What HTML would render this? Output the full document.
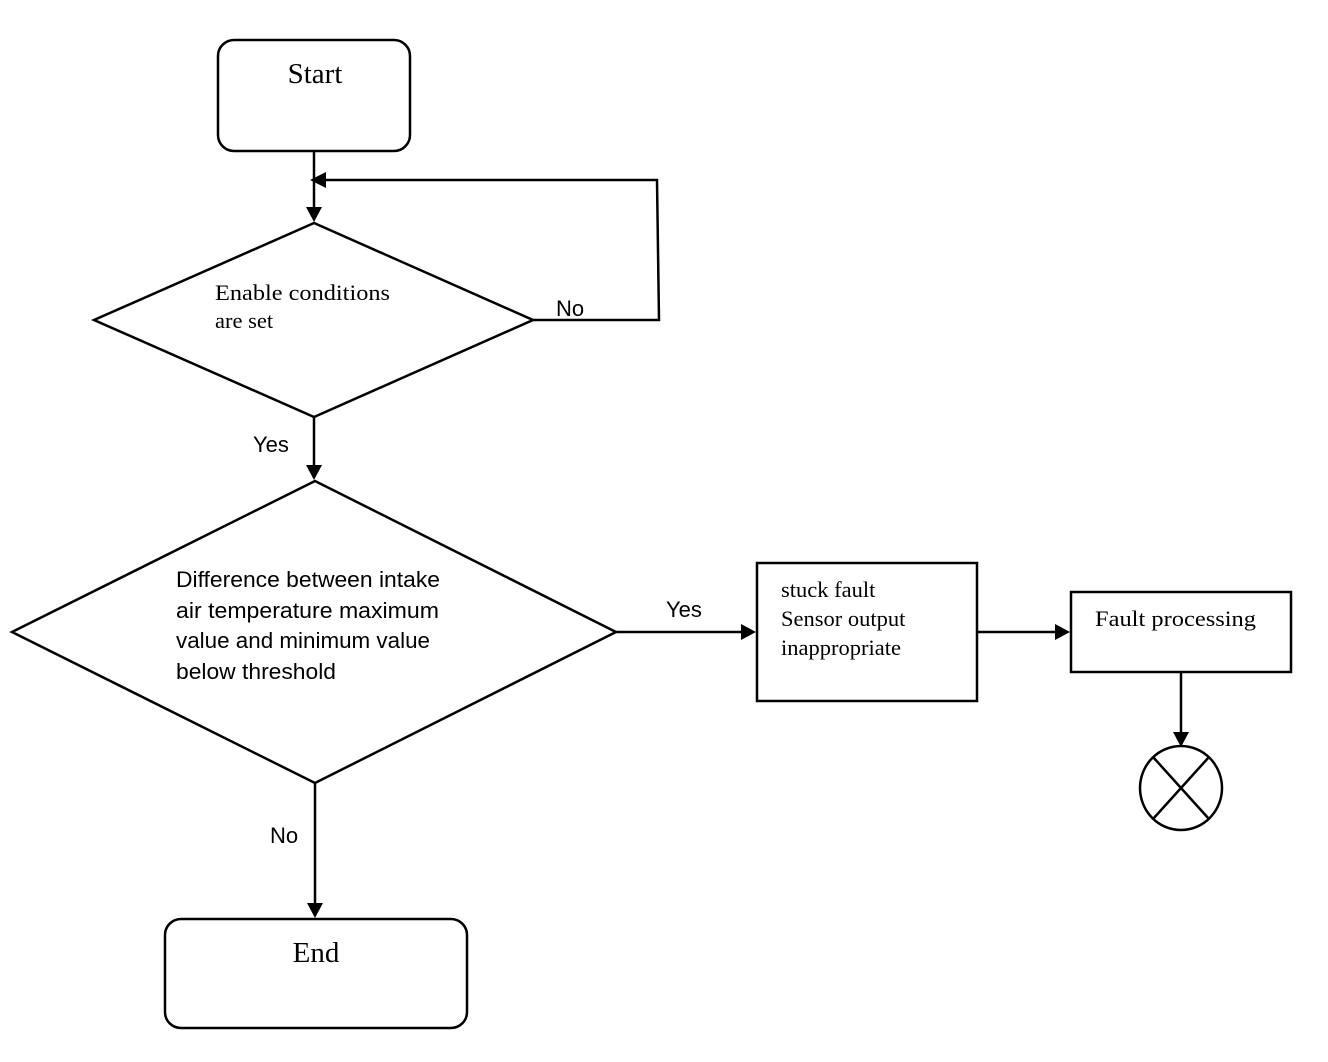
<!DOCTYPE html>
<html><head><style>html,body{margin:0;padding:0;background:#fff;}svg{display:block}</style></head>
<body>
<svg width="1328" height="1062" viewBox="0 0 1328 1062" xmlns="http://www.w3.org/2000/svg">
<g fill="none" stroke="#000" stroke-width="2.5">
<rect x="218" y="40" width="192" height="111" rx="16"/>
<line x1="314" y1="151" x2="314" y2="208"/>
<polyline points="533,320 659,320 657,180 325,180"/>
<polygon points="314,223 94,320 314,417 533,320"/>
<line x1="314" y1="417" x2="314" y2="466"/>
<polygon points="315,481 12,632 315,783 616,632"/>
<line x1="616" y1="632" x2="742" y2="632"/>
<rect x="757" y="563" width="220" height="138"/>
<line x1="977" y1="632" x2="1056" y2="632"/>
<rect x="1071" y="592" width="220" height="80"/>
<line x1="1181" y1="672" x2="1181" y2="733"/>
<ellipse cx="1181" cy="788" rx="41" ry="42"/>
<line x1="1153" y1="757" x2="1209" y2="819"/>
<line x1="1209" y1="757" x2="1153" y2="819"/>
<line x1="315" y1="783" x2="315" y2="903"/>
<rect x="165" y="919" width="302" height="109" rx="16"/>
</g>
<g fill="#000">
<polygon points="306,207 322,207 314,222"/>
<polygon points="310,180 326,172 326,188"/>
<polygon points="306,465 322,465 314,480"/>
<polygon points="741,624 741,640 756,632"/>
<polygon points="1055,624 1055,640 1070,632"/>
<polygon points="1173,732 1189,732 1181,747"/>
<polygon points="307,903 323,903 315,918"/>
</g>
<g font-family="Liberation Serif, serif" font-size="22.5" fill="#000">
<text x="315" y="83" text-anchor="middle" font-size="29">Start</text>
<text x="215" y="300" textLength="175" lengthAdjust="spacingAndGlyphs">Enable conditions</text>
<text x="215" y="328">are set</text>
<text x="781" y="597">stuck fault</text>
<text x="781" y="626">Sensor output</text>
<text x="781" y="655">inappropriate</text>
<text x="1095" y="626" textLength="161" lengthAdjust="spacingAndGlyphs">Fault processing</text>
<text x="316" y="962" text-anchor="middle" font-size="29">End</text>
</g>
<g font-family="Liberation Sans, sans-serif" font-size="22" fill="#000">
<text x="556" y="316">No</text>
<text x="253" y="452">Yes</text>
<text x="176" y="587" textLength="264" lengthAdjust="spacingAndGlyphs">Difference between intake</text>
<text x="176" y="618" textLength="263" lengthAdjust="spacingAndGlyphs">air temperature maximum</text>
<text x="176" y="648" textLength="254" lengthAdjust="spacingAndGlyphs">value and minimum value</text>
<text x="176" y="679" textLength="160" lengthAdjust="spacingAndGlyphs">below threshold</text>
<text x="666" y="617">Yes</text>
<text x="270" y="843">No</text>
</g>
</svg>
</body></html>
